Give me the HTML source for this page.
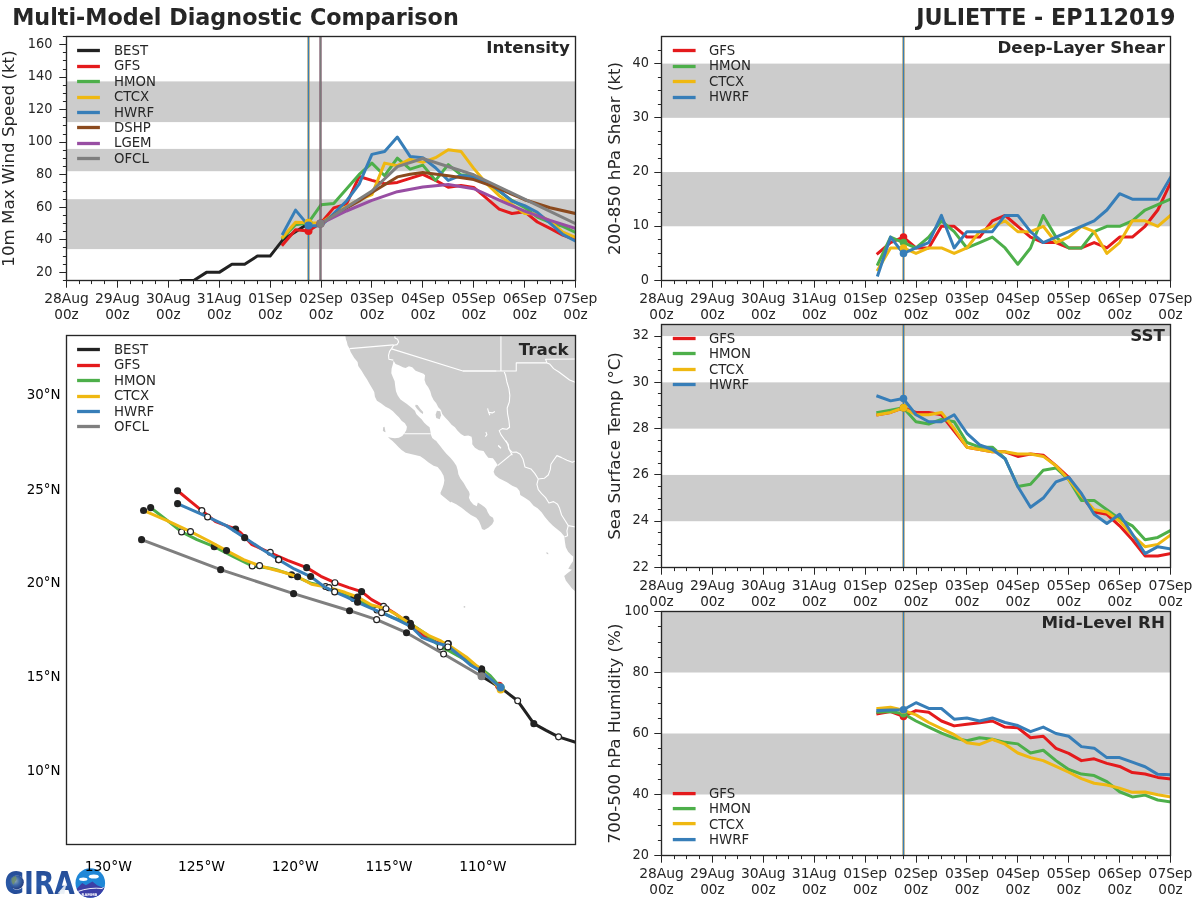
<!DOCTYPE html>
<html lang="en"><head><meta charset="utf-8"><title>Multi-Model Diagnostic Comparison - JULIETTE EP112019</title>
<style>html,body{margin:0;padding:0;background:#fff}svg{display:block}text{font-family:"DejaVu Sans","Liberation Sans",sans-serif;font-size:13.3px;fill:#262626}.t{font-size:13.89px}</style></head><body>
<svg width="1200" height="900" viewBox="0 0 1200 900">
<rect width="1200" height="900" fill="#fff"/>
<text x="12.2" y="25" style="font-size:22.28px;font-weight:bold">Multi-Model Diagnostic Comparison</text>
<text x="1175.6" y="25" style="font-size:22.28px;font-weight:bold" text-anchor="end">JULIETTE - EP112019</text>
<g id="intensity">
<clipPath id="cpI"><rect x="66.5" y="36.5" width="509" height="244"/></clipPath>
<rect x="66.5" y="199.2" width="509" height="49.9" fill="#cccccc"/>
<rect x="66.5" y="148.9" width="509" height="22.3" fill="#cccccc"/>
<rect x="66.5" y="81.4" width="509" height="40.7" fill="#cccccc"/>
<g clip-path="url(#cpI)">
<polyline points="181.02,280.5 193.75,280.5 206.47,272.37 219.2,272.37 231.92,264.23 244.65,264.23 257.38,256.1 270.1,256.1 282.82,239.83 295.55,231.7 308.27,223.57" fill="none" stroke="#222222" stroke-width="3" stroke-linejoin="round" stroke-linecap="square"/>
<polyline points="282.82,244.6 295.55,229.8 308.27,231 321,222.9 333.72,207.9 346.45,204.15 359.18,176.5 371.9,180.4 384.62,183.7 397.35,182.4 410.07,178.4 422.8,174.4 435.52,180.4 448.25,187.2 460.97,185.6 473.7,187.4 486.43,198.2 499.15,209.1 511.88,213.5 524.6,211.7 537.33,222 550.05,228.4 562.77,235.1 575.5,239.8" fill="none" stroke="#e41a1c" stroke-width="3" stroke-linejoin="round" stroke-linecap="square"/>
<polyline points="282.82,237.9 295.55,224.8 308.27,222.9 321,204.8 333.72,203.5 346.45,189.1 359.18,174.4 371.9,163.1 384.62,175.7 397.35,158.1 410.07,169.1 422.8,165.1 435.52,180.4 448.25,164.6 460.97,174.8 473.7,176.1 486.43,182.4 499.15,191.4 511.88,200.4 524.6,207.4 537.33,217.1 550.05,222.4 562.77,226.4 575.5,232.4" fill="none" stroke="#4daf4a" stroke-width="3" stroke-linejoin="round" stroke-linecap="square"/>
<polyline points="282.82,237.1 295.55,222.3 308.27,222.8 321,222.9 333.72,214.15 346.45,206.65 359.18,199.8 371.9,194.6 384.62,163.1 397.35,165.7 410.07,159.1 422.8,162.4 435.52,157.7 448.25,149.7 460.97,151.4 473.7,168.4 486.43,183.4 499.15,195.7 511.88,204.4 524.6,213.5 537.33,214 550.05,221.1 562.77,232.1 575.5,237.5" fill="none" stroke="#efb811" stroke-width="3" stroke-linejoin="round" stroke-linecap="square"/>
<polyline points="282.82,233.7 295.55,210.15 308.27,225.4 321,226 333.72,213.5 346.45,201 359.18,184.2 371.9,154.4 384.62,151.5 397.35,137.1 410.07,156.4 422.8,157.7 435.52,167.7 448.25,180.4 460.97,175.4 473.7,177.1 486.43,181.7 499.15,190.4 511.88,201.1 524.6,205.7 537.33,212.4 550.05,223.1 562.77,234.4 575.5,241.1" fill="none" stroke="#377eb8" stroke-width="3" stroke-linejoin="round" stroke-linecap="square"/>
<polyline points="321,223.6 333.72,215.4 346.45,207.9 359.18,200.9 371.9,192.4 384.62,184.8 397.35,176.9 410.07,174.2 422.8,172.4 448.25,175.7 473.7,179.6 499.15,188.7 524.6,199.7 550.05,207.7 575.5,213.5" fill="none" stroke="#8b4a1e" stroke-width="3" stroke-linejoin="round" stroke-linecap="square"/>
<polyline points="321,223.6 346.45,211 371.9,200.4 397.35,191.7 422.8,187.1 448.25,184.4 473.7,188.7 499.15,200.1 524.6,211.1 550.05,220.4 575.5,228.4" fill="none" stroke="#984ea3" stroke-width="3" stroke-linejoin="round" stroke-linecap="square"/>
<polyline points="321,223.57 346.45,207.3 371.9,191.03 397.35,166.63 422.8,158.5 473.7,174.77 524.6,199.17 575.5,223.57" fill="none" stroke="#7f7f7f" stroke-width="3" stroke-linejoin="round" stroke-linecap="square"/>
<rect x="307" y="36.5" width="3" height="244" fill="#99854b" fill-opacity="0.55" shape-rendering="crispEdges"/>
<rect x="308" y="36.5" width="1" height="244" fill="#377eb8" shape-rendering="crispEdges"/>
<rect x="319" y="36.5" width="3" height="244" fill="#704c5e" fill-opacity="0.6" shape-rendering="crispEdges"/>
<rect x="320" y="36.5" width="1" height="244" fill="#7a7a7a" shape-rendering="crispEdges"/>
<circle cx="308.5" cy="231" r="4" fill="#e41a1c"/>
<circle cx="308.5" cy="222.9" r="4" fill="#4daf4a"/>
<circle cx="308.5" cy="222.8" r="4" fill="#efb811"/>
<circle cx="308.5" cy="225.4" r="4" fill="#377eb8"/>
<circle cx="320.5" cy="223.6" r="4" fill="#8b4a1e"/>
<circle cx="320.5" cy="223.6" r="4" fill="#984ea3"/>
<circle cx="320.5" cy="223.7" r="4" fill="#7f7f7f"/>
</g>
<rect x="66.5" y="36.5" width="509" height="244" fill="none" stroke="#262626" stroke-width="1.35"/>
<path d="M66.5 280.5v7.2M79.5 280.5v3.6M91.5 280.5v3.6M104.5 280.5v3.6M117.5 280.5v7.2M130.5 280.5v3.6M142.5 280.5v3.6M155.5 280.5v3.6M168.5 280.5v7.2M181.5 280.5v3.6M193.5 280.5v3.6M206.5 280.5v3.6M219.5 280.5v7.2M231.5 280.5v3.6M244.5 280.5v3.6M257.5 280.5v3.6M270.5 280.5v7.2M282.5 280.5v3.6M295.5 280.5v3.6M308.5 280.5v3.6M321.5 280.5v7.2M333.5 280.5v3.6M346.5 280.5v3.6M359.5 280.5v3.6M371.5 280.5v7.2M384.5 280.5v3.6M397.5 280.5v3.6M410.5 280.5v3.6M422.5 280.5v7.2M435.5 280.5v3.6M448.5 280.5v3.6M460.5 280.5v3.6M473.5 280.5v7.2M486.5 280.5v3.6M499.5 280.5v3.6M511.5 280.5v3.6M524.5 280.5v7.2M537.5 280.5v3.6M550.5 280.5v3.6M562.5 280.5v3.6M575.5 280.5v7.2" stroke="#262626" stroke-width="1" fill="none"/>
<text class="t" x="66.5" y="302.8" text-anchor="middle">28Aug</text>
<text class="t" x="66.5" y="318.6" text-anchor="middle" style="font-size:13.6px">00z</text>
<text class="t" x="117.4" y="302.8" text-anchor="middle">29Aug</text>
<text class="t" x="117.4" y="318.6" text-anchor="middle" style="font-size:13.6px">00z</text>
<text class="t" x="168.3" y="302.8" text-anchor="middle">30Aug</text>
<text class="t" x="168.3" y="318.6" text-anchor="middle" style="font-size:13.6px">00z</text>
<text class="t" x="219.2" y="302.8" text-anchor="middle">31Aug</text>
<text class="t" x="219.2" y="318.6" text-anchor="middle" style="font-size:13.6px">00z</text>
<text class="t" x="270.1" y="302.8" text-anchor="middle">01Sep</text>
<text class="t" x="270.1" y="318.6" text-anchor="middle" style="font-size:13.6px">00z</text>
<text class="t" x="321" y="302.8" text-anchor="middle">02Sep</text>
<text class="t" x="321" y="318.6" text-anchor="middle" style="font-size:13.6px">00z</text>
<text class="t" x="371.9" y="302.8" text-anchor="middle">03Sep</text>
<text class="t" x="371.9" y="318.6" text-anchor="middle" style="font-size:13.6px">00z</text>
<text class="t" x="422.8" y="302.8" text-anchor="middle">04Sep</text>
<text class="t" x="422.8" y="318.6" text-anchor="middle" style="font-size:13.6px">00z</text>
<text class="t" x="473.7" y="302.8" text-anchor="middle">05Sep</text>
<text class="t" x="473.7" y="318.6" text-anchor="middle" style="font-size:13.6px">00z</text>
<text class="t" x="524.6" y="302.8" text-anchor="middle">06Sep</text>
<text class="t" x="524.6" y="318.6" text-anchor="middle" style="font-size:13.6px">00z</text>
<text class="t" x="575.5" y="302.8" text-anchor="middle">07Sep</text>
<text class="t" x="575.5" y="318.6" text-anchor="middle" style="font-size:13.6px">00z</text>
<path d="M66.5 272.5h-7.2M66.5 239.5h-7.2M66.5 207.5h-7.2M66.5 174.5h-7.2M66.5 142.5h-7.2M66.5 109.5h-7.2M66.5 77.5h-7.2M66.5 44.5h-7.2M66.5 280.5h-3.6M66.5 264.5h-3.6M66.5 256.5h-3.6M66.5 247.5h-3.6M66.5 231.5h-3.6M66.5 223.5h-3.6M66.5 215.5h-3.6M66.5 199.5h-3.6M66.5 191.5h-3.6M66.5 182.5h-3.6M66.5 166.5h-3.6M66.5 158.5h-3.6M66.5 150.5h-3.6M66.5 134.5h-3.6M66.5 125.5h-3.6M66.5 117.5h-3.6M66.5 101.5h-3.6M66.5 93.5h-3.6M66.5 85.5h-3.6M66.5 69.5h-3.6M66.5 60.5h-3.6M66.5 52.5h-3.6M66.5 36.5h-3.6" stroke="#262626" stroke-width="1" fill="none"/>
<text class="t" transform="translate(52.5 275.57) scale(0.93 1)" text-anchor="end">20</text>
<text class="t" transform="translate(52.5 243.03) scale(0.93 1)" text-anchor="end">40</text>
<text class="t" transform="translate(52.5 210.5) scale(0.93 1)" text-anchor="end">60</text>
<text class="t" transform="translate(52.5 177.97) scale(0.93 1)" text-anchor="end">80</text>
<text class="t" transform="translate(52.5 145.43) scale(0.93 1)" text-anchor="end">100</text>
<text class="t" transform="translate(52.5 112.9) scale(0.93 1)" text-anchor="end">120</text>
<text class="t" transform="translate(52.5 80.37) scale(0.93 1)" text-anchor="end">140</text>
<text class="t" transform="translate(52.5 47.83) scale(0.93 1)" text-anchor="end">160</text>
<text transform="translate(13.6 158.5) rotate(-90)" text-anchor="middle" style="font-size:16.67px">10m Max Wind Speed (kt)</text>
<text x="569.9" y="52.7" text-anchor="end" style="font-size:16.67px;font-weight:bold">Intensity</text>
<path d="M77.1 50.5h22.8" stroke="#222222" stroke-width="3.3"/>
<text x="114" y="54.7">BEST</text>
<path d="M77.1 66.5h22.8" stroke="#e41a1c" stroke-width="3.3"/>
<text x="114" y="70.15">GFS</text>
<path d="M77.1 81.5h22.8" stroke="#4daf4a" stroke-width="3.3"/>
<text x="114" y="85.6">HMON</text>
<path d="M77.1 97.5h22.8" stroke="#efb811" stroke-width="3.3"/>
<text x="114" y="101.05">CTCX</text>
<path d="M77.1 112.5h22.8" stroke="#377eb8" stroke-width="3.3"/>
<text x="114" y="116.5">HWRF</text>
<path d="M77.1 127.5h22.8" stroke="#8b4a1e" stroke-width="3.3"/>
<text x="114" y="131.95">DSHP</text>
<path d="M77.1 143.5h22.8" stroke="#984ea3" stroke-width="3.3"/>
<text x="114" y="147.4">LGEM</text>
<path d="M77.1 158.5h22.8" stroke="#7f7f7f" stroke-width="3.3"/>
<text x="114" y="162.85">OFCL</text>
</g>
<g id="shear">
<clipPath id="cpshear"><rect x="661.5" y="36.5" width="509" height="244"/></clipPath>
<rect x="661.5" y="172.06" width="509" height="54.22" fill="#cccccc"/>
<rect x="661.5" y="63.61" width="509" height="54.22" fill="#cccccc"/>
<g clip-path="url(#cpshear)">
<polyline points="877.83,253.39 890.55,242.54 903.27,237.12 916,247.97 928.72,247.97 941.45,226.28 954.17,226.28 966.9,237.12 979.62,237.12 992.35,220.86 1005.08,215.43 1017.8,226.28 1030.53,237.12 1043.25,242.54 1055.97,242.54 1068.7,247.97 1081.42,247.97 1094.15,242.54 1106.88,247.97 1119.6,237.12 1132.33,237.12 1145.05,226.28 1157.78,210.01 1170.5,182.9" fill="none" stroke="#e41a1c" stroke-width="3" stroke-linejoin="round" stroke-linecap="square"/>
<polyline points="877.83,264.23 890.55,237.12 903.27,242.54 916,247.97 928.72,237.12 941.45,220.86 954.17,231.7 966.9,247.97 979.62,242.54 992.35,237.12 1005.08,247.97 1017.8,264.23 1030.53,247.97 1043.25,215.43 1055.97,237.12 1068.7,247.97 1081.42,247.97 1094.15,231.7 1106.88,226.28 1119.6,226.28 1132.33,220.86 1145.05,210.01 1157.78,204.59 1170.5,199.17" fill="none" stroke="#4daf4a" stroke-width="3" stroke-linejoin="round" stroke-linecap="square"/>
<polyline points="877.83,269.66 890.55,247.97 903.27,247.97 916,253.39 928.72,247.97 941.45,247.97 954.17,253.39 966.9,247.97 979.62,231.7 992.35,226.28 1005.08,220.86 1017.8,231.7 1030.53,231.7 1043.25,226.28 1055.97,242.54 1068.7,237.12 1081.42,226.28 1094.15,231.7 1106.88,253.39 1119.6,242.54 1132.33,220.86 1145.05,220.86 1157.78,226.28 1170.5,215.43" fill="none" stroke="#efb811" stroke-width="3" stroke-linejoin="round" stroke-linecap="square"/>
<polyline points="877.83,275.08 890.55,237.12 903.27,253.39 916,247.97 928.72,242.54 941.45,215.43 954.17,247.97 966.9,231.7 979.62,231.7 992.35,231.7 1005.08,215.43 1017.8,215.43 1030.53,231.7 1043.25,242.54 1055.97,237.12 1068.7,231.7 1081.42,226.28 1094.15,220.86 1106.88,210.01 1119.6,193.74 1132.33,199.17 1145.05,199.17 1157.78,199.17 1170.5,177.48" fill="none" stroke="#377eb8" stroke-width="3" stroke-linejoin="round" stroke-linecap="square"/>
<rect x="902" y="36.5" width="3" height="244" fill="#99854b" fill-opacity="0.55" shape-rendering="crispEdges"/>
<rect x="903" y="36.5" width="1" height="244" fill="#377eb8" shape-rendering="crispEdges"/>
<circle cx="903.5" cy="237.12" r="3.8" fill="#e41a1c"/>
<circle cx="903.5" cy="242.54" r="3.8" fill="#4daf4a"/>
<circle cx="903.5" cy="247.97" r="3.8" fill="#efb811"/>
<circle cx="903.5" cy="253.39" r="3.8" fill="#377eb8"/>
</g>
<rect x="661.5" y="36.5" width="509" height="244" fill="none" stroke="#262626" stroke-width="1.35"/>
<path d="M661.5 280.5v7.2M674.5 280.5v3.6M686.5 280.5v3.6M699.5 280.5v3.6M712.5 280.5v7.2M725.5 280.5v3.6M737.5 280.5v3.6M750.5 280.5v3.6M763.5 280.5v7.2M776.5 280.5v3.6M788.5 280.5v3.6M801.5 280.5v3.6M814.5 280.5v7.2M826.5 280.5v3.6M839.5 280.5v3.6M852.5 280.5v3.6M865.5 280.5v7.2M877.5 280.5v3.6M890.5 280.5v3.6M903.5 280.5v3.6M916.5 280.5v7.2M928.5 280.5v3.6M941.5 280.5v3.6M954.5 280.5v3.6M966.5 280.5v7.2M979.5 280.5v3.6M992.5 280.5v3.6M1005.5 280.5v3.6M1017.5 280.5v7.2M1030.5 280.5v3.6M1043.5 280.5v3.6M1055.5 280.5v3.6M1068.5 280.5v7.2M1081.5 280.5v3.6M1094.5 280.5v3.6M1106.5 280.5v3.6M1119.5 280.5v7.2M1132.5 280.5v3.6M1145.5 280.5v3.6M1157.5 280.5v3.6M1170.5 280.5v7.2" stroke="#262626" stroke-width="1" fill="none"/>
<text class="t" x="661.5" y="302.8" text-anchor="middle">28Aug</text>
<text class="t" x="661.5" y="318.6" text-anchor="middle" style="font-size:13.6px">00z</text>
<text class="t" x="712.4" y="302.8" text-anchor="middle">29Aug</text>
<text class="t" x="712.4" y="318.6" text-anchor="middle" style="font-size:13.6px">00z</text>
<text class="t" x="763.3" y="302.8" text-anchor="middle">30Aug</text>
<text class="t" x="763.3" y="318.6" text-anchor="middle" style="font-size:13.6px">00z</text>
<text class="t" x="814.2" y="302.8" text-anchor="middle">31Aug</text>
<text class="t" x="814.2" y="318.6" text-anchor="middle" style="font-size:13.6px">00z</text>
<text class="t" x="865.1" y="302.8" text-anchor="middle">01Sep</text>
<text class="t" x="865.1" y="318.6" text-anchor="middle" style="font-size:13.6px">00z</text>
<text class="t" x="916" y="302.8" text-anchor="middle">02Sep</text>
<text class="t" x="916" y="318.6" text-anchor="middle" style="font-size:13.6px">00z</text>
<text class="t" x="966.9" y="302.8" text-anchor="middle">03Sep</text>
<text class="t" x="966.9" y="318.6" text-anchor="middle" style="font-size:13.6px">00z</text>
<text class="t" x="1017.8" y="302.8" text-anchor="middle">04Sep</text>
<text class="t" x="1017.8" y="318.6" text-anchor="middle" style="font-size:13.6px">00z</text>
<text class="t" x="1068.7" y="302.8" text-anchor="middle">05Sep</text>
<text class="t" x="1068.7" y="318.6" text-anchor="middle" style="font-size:13.6px">00z</text>
<text class="t" x="1119.6" y="302.8" text-anchor="middle">06Sep</text>
<text class="t" x="1119.6" y="318.6" text-anchor="middle" style="font-size:13.6px">00z</text>
<text class="t" x="1170.5" y="302.8" text-anchor="middle">07Sep</text>
<text class="t" x="1170.5" y="318.6" text-anchor="middle" style="font-size:13.6px">00z</text>
<path d="M661.5 280.5h-7.2M661.5 226.5h-7.2M661.5 172.5h-7.2M661.5 117.5h-7.2M661.5 63.5h-7.2M661.5 266.5h-3.6M661.5 253.5h-3.6M661.5 239.5h-3.6M661.5 212.5h-3.6M661.5 199.5h-3.6M661.5 185.5h-3.6M661.5 158.5h-3.6M661.5 144.5h-3.6M661.5 131.5h-3.6M661.5 104.5h-3.6M661.5 90.5h-3.6M661.5 77.5h-3.6M661.5 50.5h-3.6" stroke="#262626" stroke-width="1" fill="none"/>
<text class="t" transform="translate(648.9 283.7) scale(0.93 1)" text-anchor="end">0</text>
<text class="t" transform="translate(648.9 229.48) scale(0.93 1)" text-anchor="end">10</text>
<text class="t" transform="translate(648.9 175.26) scale(0.93 1)" text-anchor="end">20</text>
<text class="t" transform="translate(648.9 121.03) scale(0.93 1)" text-anchor="end">30</text>
<text class="t" transform="translate(648.9 66.81) scale(0.93 1)" text-anchor="end">40</text>
<text transform="translate(620.1 158.5) rotate(-90)" text-anchor="middle" style="font-size:16.67px">200-850 hPa Shear (kt)</text>
<text x="1164.9" y="52.7" text-anchor="end" style="font-size:16.67px;font-weight:bold">Deep-Layer Shear</text>
<path d="M672.8 50.5h22.8" stroke="#e41a1c" stroke-width="3.3"/>
<text x="709" y="54.7">GFS</text>
<path d="M672.8 66.5h22.8" stroke="#4daf4a" stroke-width="3.3"/>
<text x="709" y="70.15">HMON</text>
<path d="M672.8 81.5h22.8" stroke="#efb811" stroke-width="3.3"/>
<text x="709" y="85.6">CTCX</text>
<path d="M672.8 97.5h22.8" stroke="#377eb8" stroke-width="3.3"/>
<text x="709" y="101.05">HWRF</text>
</g>
<g id="sst">
<clipPath id="cpsst"><rect x="661.5" y="324.5" width="509" height="243"/></clipPath>
<rect x="661.5" y="474.93" width="509" height="46.29" fill="#cccccc"/>
<rect x="661.5" y="382.36" width="509" height="46.29" fill="#cccccc"/>
<rect x="661.5" y="324.5" width="509" height="11.57" fill="#cccccc"/>
<g clip-path="url(#cpsst)">
<polyline points="877.83,414.76 890.55,412.44 903.27,407.81 916,412.44 928.72,412.44 941.45,414.76 954.17,430.96 966.9,447.16 979.62,449.47 992.35,451.79 1005.08,451.79 1017.8,456.41 1030.53,454.1 1043.25,455.26 1055.97,465.67 1068.7,477.24 1081.42,495.76 1094.15,511.96 1106.88,514.27 1119.6,525.84 1132.33,539.73 1145.05,555.93 1157.78,555.93 1170.5,553.61" fill="none" stroke="#e41a1c" stroke-width="3" stroke-linejoin="round" stroke-linecap="square"/>
<polyline points="877.83,412.44 890.55,410.13 903.27,407.81 916,421.7 928.72,424.01 941.45,419.39 954.17,421.7 966.9,442.53 979.62,447.16 992.35,447.16 1005.08,458.73 1017.8,486.5 1030.53,484.19 1043.25,470.3 1055.97,467.99 1068.7,479.56 1081.42,500.39 1094.15,500.39 1106.88,509.64 1119.6,518.9 1132.33,525.84 1145.05,539.73 1157.78,537.41 1170.5,530.47" fill="none" stroke="#4daf4a" stroke-width="3" stroke-linejoin="round" stroke-linecap="square"/>
<polyline points="877.83,414.76 890.55,412.44 903.27,407.81 916,414.76 928.72,414.76 941.45,412.44 954.17,428.64 966.9,447.16 979.62,449.47 992.35,451.79 1005.08,451.79 1017.8,454.1 1030.53,454.1 1043.25,456.41 1055.97,465.67 1068.7,479.56 1081.42,495.76 1094.15,509.64 1106.88,511.96 1119.6,521.21 1132.33,535.1 1145.05,546.67 1157.78,544.36 1170.5,535.1" fill="none" stroke="#efb811" stroke-width="3" stroke-linejoin="round" stroke-linecap="square"/>
<polyline points="877.83,396.24 890.55,400.87 903.27,398.56 916,414.76 928.72,421.7 941.45,421.7 954.17,414.76 966.9,433.27 979.62,444.84 992.35,449.47 1005.08,458.73 1017.8,486.5 1030.53,507.33 1043.25,498.07 1055.97,481.87 1068.7,477.24 1081.42,493.44 1094.15,514.27 1106.88,523.53 1119.6,514.27 1132.33,533.94 1145.05,553.61 1157.78,546.67 1170.5,548.99" fill="none" stroke="#377eb8" stroke-width="3" stroke-linejoin="round" stroke-linecap="square"/>
<rect x="902" y="324.5" width="3" height="243" fill="#99854b" fill-opacity="0.55" shape-rendering="crispEdges"/>
<rect x="903" y="324.5" width="1" height="243" fill="#377eb8" shape-rendering="crispEdges"/>
<circle cx="903.5" cy="407.81" r="3.8" fill="#e41a1c"/>
<circle cx="903.5" cy="407.81" r="3.8" fill="#4daf4a"/>
<circle cx="903.5" cy="407.81" r="3.8" fill="#efb811"/>
<circle cx="903.5" cy="398.56" r="3.8" fill="#377eb8"/>
</g>
<rect x="661.5" y="324.5" width="509" height="243" fill="none" stroke="#262626" stroke-width="1.35"/>
<path d="M661.5 567.5v7.2M674.5 567.5v3.6M686.5 567.5v3.6M699.5 567.5v3.6M712.5 567.5v7.2M725.5 567.5v3.6M737.5 567.5v3.6M750.5 567.5v3.6M763.5 567.5v7.2M776.5 567.5v3.6M788.5 567.5v3.6M801.5 567.5v3.6M814.5 567.5v7.2M826.5 567.5v3.6M839.5 567.5v3.6M852.5 567.5v3.6M865.5 567.5v7.2M877.5 567.5v3.6M890.5 567.5v3.6M903.5 567.5v3.6M916.5 567.5v7.2M928.5 567.5v3.6M941.5 567.5v3.6M954.5 567.5v3.6M966.5 567.5v7.2M979.5 567.5v3.6M992.5 567.5v3.6M1005.5 567.5v3.6M1017.5 567.5v7.2M1030.5 567.5v3.6M1043.5 567.5v3.6M1055.5 567.5v3.6M1068.5 567.5v7.2M1081.5 567.5v3.6M1094.5 567.5v3.6M1106.5 567.5v3.6M1119.5 567.5v7.2M1132.5 567.5v3.6M1145.5 567.5v3.6M1157.5 567.5v3.6M1170.5 567.5v7.2" stroke="#262626" stroke-width="1" fill="none"/>
<text class="t" x="661.5" y="589.8" text-anchor="middle">28Aug</text>
<text class="t" x="661.5" y="605.6" text-anchor="middle" style="font-size:13.6px">00z</text>
<text class="t" x="712.4" y="589.8" text-anchor="middle">29Aug</text>
<text class="t" x="712.4" y="605.6" text-anchor="middle" style="font-size:13.6px">00z</text>
<text class="t" x="763.3" y="589.8" text-anchor="middle">30Aug</text>
<text class="t" x="763.3" y="605.6" text-anchor="middle" style="font-size:13.6px">00z</text>
<text class="t" x="814.2" y="589.8" text-anchor="middle">31Aug</text>
<text class="t" x="814.2" y="605.6" text-anchor="middle" style="font-size:13.6px">00z</text>
<text class="t" x="865.1" y="589.8" text-anchor="middle">01Sep</text>
<text class="t" x="865.1" y="605.6" text-anchor="middle" style="font-size:13.6px">00z</text>
<text class="t" x="916" y="589.8" text-anchor="middle">02Sep</text>
<text class="t" x="916" y="605.6" text-anchor="middle" style="font-size:13.6px">00z</text>
<text class="t" x="966.9" y="589.8" text-anchor="middle">03Sep</text>
<text class="t" x="966.9" y="605.6" text-anchor="middle" style="font-size:13.6px">00z</text>
<text class="t" x="1017.8" y="589.8" text-anchor="middle">04Sep</text>
<text class="t" x="1017.8" y="605.6" text-anchor="middle" style="font-size:13.6px">00z</text>
<text class="t" x="1068.7" y="589.8" text-anchor="middle">05Sep</text>
<text class="t" x="1068.7" y="605.6" text-anchor="middle" style="font-size:13.6px">00z</text>
<text class="t" x="1119.6" y="589.8" text-anchor="middle">06Sep</text>
<text class="t" x="1119.6" y="605.6" text-anchor="middle" style="font-size:13.6px">00z</text>
<text class="t" x="1170.5" y="589.8" text-anchor="middle">07Sep</text>
<text class="t" x="1170.5" y="605.6" text-anchor="middle" style="font-size:13.6px">00z</text>
<path d="M661.5 567.5h-7.2M661.5 521.5h-7.2M661.5 474.5h-7.2M661.5 428.5h-7.2M661.5 382.5h-7.2M661.5 336.5h-7.2M661.5 555.5h-3.6M661.5 544.5h-3.6M661.5 532.5h-3.6M661.5 509.5h-3.6M661.5 498.5h-3.6M661.5 486.5h-3.6M661.5 463.5h-3.6M661.5 451.5h-3.6M661.5 440.5h-3.6M661.5 417.5h-3.6M661.5 405.5h-3.6M661.5 393.5h-3.6M661.5 370.5h-3.6M661.5 359.5h-3.6M661.5 347.5h-3.6" stroke="#262626" stroke-width="1" fill="none"/>
<text class="t" transform="translate(648.9 570.7) scale(0.93 1)" text-anchor="end">22</text>
<text class="t" transform="translate(648.9 524.41) scale(0.93 1)" text-anchor="end">24</text>
<text class="t" transform="translate(648.9 478.13) scale(0.93 1)" text-anchor="end">26</text>
<text class="t" transform="translate(648.9 431.84) scale(0.93 1)" text-anchor="end">28</text>
<text class="t" transform="translate(648.9 385.56) scale(0.93 1)" text-anchor="end">30</text>
<text class="t" transform="translate(648.9 339.27) scale(0.93 1)" text-anchor="end">32</text>
<text transform="translate(620.1 446) rotate(-90)" text-anchor="middle" style="font-size:16.67px">Sea Surface Temp (°C)</text>
<text x="1164.9" y="340.7" text-anchor="end" style="font-size:16.67px;font-weight:bold">SST</text>
<path d="M672.8 338.5h22.8" stroke="#e41a1c" stroke-width="3.3"/>
<text x="709" y="342.7">GFS</text>
<path d="M672.8 353.5h22.8" stroke="#4daf4a" stroke-width="3.3"/>
<text x="709" y="358.15">HMON</text>
<path d="M672.8 369.5h22.8" stroke="#efb811" stroke-width="3.3"/>
<text x="709" y="373.6">CTCX</text>
<path d="M672.8 384.5h22.8" stroke="#377eb8" stroke-width="3.3"/>
<text x="709" y="389.05">HWRF</text>
</g>
<!-- rh -->
<g id="rh">
<clipPath id="cprh"><rect x="661.5" y="611.5" width="509" height="244"/></clipPath>
<rect x="661.5" y="733.5" width="509" height="61" fill="#cccccc"/>
<rect x="661.5" y="611.5" width="509" height="61" fill="#cccccc"/>
<g clip-path="url(#cprh)">
<polyline points="877.83,713.67 890.55,711.54 903.27,716.42 916,710.62 928.72,712.15 941.45,721 954.17,725.88 966.9,724.35 979.62,722.83 992.35,721 1005.08,727.1 1017.8,727.71 1030.53,737.77 1043.25,736.25 1055.97,748.45 1068.7,753.33 1081.42,760.64 1094.15,758.82 1106.88,763.39 1119.6,766.44 1132.33,772.54 1145.05,774.07 1157.78,777.42 1170.5,778.94" fill="none" stroke="#e41a1c" stroke-width="3" stroke-linejoin="round" stroke-linecap="square"/>
<polyline points="877.83,712.15 890.55,711.54 903.27,713.67 916,721 928.72,727.1 941.45,733.2 954.17,738.08 966.9,740.82 979.62,737.77 992.35,739.29 1005.08,742.35 1017.8,743.87 1030.53,753.02 1043.25,750.27 1055.97,760.64 1068.7,769.49 1081.42,774.07 1094.15,775.59 1106.88,781.69 1119.6,791.75 1132.33,796.94 1145.05,795.11 1157.78,799.99 1170.5,801.82" fill="none" stroke="#4daf4a" stroke-width="3" stroke-linejoin="round" stroke-linecap="square"/>
<polyline points="877.83,708.49 890.55,707.27 903.27,710.32 916,714.89 928.72,722.52 941.45,728.62 954.17,734.72 966.9,742.65 979.62,744.48 992.35,739.29 1005.08,744.17 1017.8,753.02 1030.53,757.6 1043.25,760.64 1055.97,766.44 1068.7,772.24 1081.42,778.64 1094.15,783.22 1106.88,785.04 1119.6,788.1 1132.33,792.37 1145.05,792.06 1157.78,794.81 1170.5,796.94" fill="none" stroke="#efb811" stroke-width="3" stroke-linejoin="round" stroke-linecap="square"/>
<polyline points="877.83,710.62 890.55,710.01 903.27,709.71 916,702.7 928.72,708.49 941.45,708.49 954.17,719.16 966.9,717.95 979.62,721 992.35,717.95 1005.08,722.52 1017.8,725.57 1030.53,731.67 1043.25,727.1 1055.97,733.5 1068.7,736.25 1081.42,746.62 1094.15,748.14 1106.88,757.6 1119.6,757.6 1132.33,762.17 1145.05,766.75 1157.78,774.37 1170.5,774.67" fill="none" stroke="#377eb8" stroke-width="3" stroke-linejoin="round" stroke-linecap="square"/>
<rect x="902" y="611.5" width="3" height="244" fill="#99854b" fill-opacity="0.55" shape-rendering="crispEdges"/>
<rect x="903" y="611.5" width="1" height="244" fill="#377eb8" shape-rendering="crispEdges"/>
<circle cx="903.5" cy="716.42" r="3.8" fill="#e41a1c"/>
<circle cx="903.5" cy="713.67" r="3.8" fill="#4daf4a"/>
<circle cx="903.5" cy="710.32" r="3.8" fill="#efb811"/>
<circle cx="903.5" cy="709.71" r="3.8" fill="#377eb8"/>
</g>
<rect x="661.5" y="611.5" width="509" height="244" fill="none" stroke="#262626" stroke-width="1.35"/>
<path d="M661.5 855.5v7.2M674.5 855.5v3.6M686.5 855.5v3.6M699.5 855.5v3.6M712.5 855.5v7.2M725.5 855.5v3.6M737.5 855.5v3.6M750.5 855.5v3.6M763.5 855.5v7.2M776.5 855.5v3.6M788.5 855.5v3.6M801.5 855.5v3.6M814.5 855.5v7.2M826.5 855.5v3.6M839.5 855.5v3.6M852.5 855.5v3.6M865.5 855.5v7.2M877.5 855.5v3.6M890.5 855.5v3.6M903.5 855.5v3.6M916.5 855.5v7.2M928.5 855.5v3.6M941.5 855.5v3.6M954.5 855.5v3.6M966.5 855.5v7.2M979.5 855.5v3.6M992.5 855.5v3.6M1005.5 855.5v3.6M1017.5 855.5v7.2M1030.5 855.5v3.6M1043.5 855.5v3.6M1055.5 855.5v3.6M1068.5 855.5v7.2M1081.5 855.5v3.6M1094.5 855.5v3.6M1106.5 855.5v3.6M1119.5 855.5v7.2M1132.5 855.5v3.6M1145.5 855.5v3.6M1157.5 855.5v3.6M1170.5 855.5v7.2" stroke="#262626" stroke-width="1" fill="none"/>
<text class="t" x="661.5" y="877.8" text-anchor="middle">28Aug</text>
<text class="t" x="661.5" y="893.6" text-anchor="middle" style="font-size:13.6px">00z</text>
<text class="t" x="712.4" y="877.8" text-anchor="middle">29Aug</text>
<text class="t" x="712.4" y="893.6" text-anchor="middle" style="font-size:13.6px">00z</text>
<text class="t" x="763.3" y="877.8" text-anchor="middle">30Aug</text>
<text class="t" x="763.3" y="893.6" text-anchor="middle" style="font-size:13.6px">00z</text>
<text class="t" x="814.2" y="877.8" text-anchor="middle">31Aug</text>
<text class="t" x="814.2" y="893.6" text-anchor="middle" style="font-size:13.6px">00z</text>
<text class="t" x="865.1" y="877.8" text-anchor="middle">01Sep</text>
<text class="t" x="865.1" y="893.6" text-anchor="middle" style="font-size:13.6px">00z</text>
<text class="t" x="916" y="877.8" text-anchor="middle">02Sep</text>
<text class="t" x="916" y="893.6" text-anchor="middle" style="font-size:13.6px">00z</text>
<text class="t" x="966.9" y="877.8" text-anchor="middle">03Sep</text>
<text class="t" x="966.9" y="893.6" text-anchor="middle" style="font-size:13.6px">00z</text>
<text class="t" x="1017.8" y="877.8" text-anchor="middle">04Sep</text>
<text class="t" x="1017.8" y="893.6" text-anchor="middle" style="font-size:13.6px">00z</text>
<text class="t" x="1068.7" y="877.8" text-anchor="middle">05Sep</text>
<text class="t" x="1068.7" y="893.6" text-anchor="middle" style="font-size:13.6px">00z</text>
<text class="t" x="1119.6" y="877.8" text-anchor="middle">06Sep</text>
<text class="t" x="1119.6" y="893.6" text-anchor="middle" style="font-size:13.6px">00z</text>
<text class="t" x="1170.5" y="877.8" text-anchor="middle">07Sep</text>
<text class="t" x="1170.5" y="893.6" text-anchor="middle" style="font-size:13.6px">00z</text>
<path d="M661.5 855.5h-7.2M661.5 794.5h-7.2M661.5 733.5h-7.2M661.5 672.5h-7.2M661.5 611.5h-7.2M661.5 840.5h-3.6M661.5 825.5h-3.6M661.5 809.5h-3.6M661.5 779.5h-3.6M661.5 764.5h-3.6M661.5 748.5h-3.6M661.5 718.5h-3.6M661.5 703.5h-3.6M661.5 687.5h-3.6M661.5 657.5h-3.6M661.5 642.5h-3.6M661.5 626.5h-3.6" stroke="#262626" stroke-width="1" fill="none"/>
<text class="t" transform="translate(648.9 858.7) scale(0.93 1)" text-anchor="end">20</text>
<text class="t" transform="translate(648.9 797.7) scale(0.93 1)" text-anchor="end">40</text>
<text class="t" transform="translate(648.9 736.7) scale(0.93 1)" text-anchor="end">60</text>
<text class="t" transform="translate(648.9 675.7) scale(0.93 1)" text-anchor="end">80</text>
<text class="t" transform="translate(648.9 614.7) scale(0.93 1)" text-anchor="end">100</text>
<text transform="translate(620.1 733.5) rotate(-90)" text-anchor="middle" style="font-size:16.67px">700-500 hPa Humidity (%)</text>
<text x="1164.9" y="627.7" text-anchor="end" style="font-size:16.67px;font-weight:bold">Mid-Level RH</text>
<path d="M672.8 793.6h22.8" stroke="#e41a1c" stroke-width="3.3"/>
<text x="709" y="797.8">GFS</text>
<path d="M672.8 808.6h22.8" stroke="#4daf4a" stroke-width="3.3"/>
<text x="709" y="813.25">HMON</text>
<path d="M672.8 823.6h22.8" stroke="#efb811" stroke-width="3.3"/>
<text x="709" y="828.7">CTCX</text>
<path d="M672.8 839.6h22.8" stroke="#377eb8" stroke-width="3.3"/>
<text x="709" y="844.15">HWRF</text>
</g>
<g id="logo">
<defs><linearGradient id="lg" x1="0" y1="0" x2="0" y2="1"><stop offset="0" stop-color="#24478f"/><stop offset="0.55" stop-color="#2a5aa8"/><stop offset="1" stop-color="#1d3c86"/></linearGradient><radialGradient id="gl" cx="0.4" cy="0.4" r="0.7"><stop offset="0" stop-color="#8fa9b5"/><stop offset="0.45" stop-color="#3d68a8"/><stop offset="1" stop-color="#1b2f72"/></radialGradient><clipPath id="cpL"><circle cx="90.3" cy="883" r="14.8"/></clipPath></defs>
<text x="4.6" y="894.3" style="font-size:32.6px;font-weight:bold;fill:url(#lg)" textLength="70.2" lengthAdjust="spacingAndGlyphs">CIRA</text>
<circle cx="16.7" cy="882.3" r="7.1" fill="url(#gl)"/>
<path d="M11.5 878.5q2-2.5 4.5-2.6q1 2 .2 4.200q-1.500 2.500-3 5q-2-2.500-1.700-6.600z" fill="#6f8f6a" fill-opacity="0.85"/>
<path d="M57.5 893.5L66.600 882.800L64.300 894z" fill="#e8eef5" fill-opacity="0.9"/>
<circle cx="90.3" cy="883" r="14.8" fill="#1f87d7"/>
<g clip-path="url(#cpL)"><path d="M74 892.500L76.500 889L82.200 883L85.900 885.300L92.400 881.600L97.100 885.300L102.700 887.700L106 887L106 900L74 900Z" fill="#3c3fa6"/><ellipse cx="83.300" cy="879.300" rx="4.200" ry="1.700" fill="#fff"/><ellipse cx="93.800" cy="876.600" rx="5" ry="2" fill="#fff"/><path d="M77.500 891.600Q90 887 102.500 888.600" stroke="#fff" stroke-width="0.900" fill="none"/><path d="M100.500 889.200l2.800-2.200l.5 .8z" fill="#fff"/></g>
<text x="89.500" y="895.700" style="font-size:3.700px;font-weight:bold;fill:#fff" text-anchor="middle">RAMMB</text>
</g>
<g id="track">
<clipPath id="cpM"><rect x="66.5" y="335.5" width="509" height="509"/></clipPath>
<g clip-path="url(#cpM)"><g transform="translate(0.25 0.3)">
<polygon points="345.07,335 345.6,339 346.67,341.67 347.33,345 349.33,348.33 350.4,351.67 351.73,353.93 354,357.67 357.33,361.67 358,365.67 361.33,370.33 364,375 366.67,379 369.33,383.67 371.73,387.67 374,391.67 374.67,396.33 376.67,400.33 380.67,403 385.33,406.33 389.33,408.33 392.67,411 396,414.33 398.67,417 401.33,420.33 404.67,423 406.67,426.33 406.13,429.67 404.27,433 402,435.67 398.67,437.4 394.67,437.93 390.67,437.4 387.73,436.6 390,439 392,440.33 395.33,443.67 398.67,447.27 401.33,449.67 405.33,452.33 420,456 424,458.67 428,462 433.33,465.33 437.33,466.67 440.67,470.67 443.33,475.33 444.13,480 443.47,484 442.13,488 440,493.07 443.33,496 446.67,498.4 451.33,501.6 456,504 461.33,507.33 465.33,510.67 470.67,514.67 476,517.33 478.67,520.67 480.67,525.33 481.73,528.67 484,529.73 488,527.33 492,524 493.6,520.67 492.8,517.33 489.6,515.47 487.47,512 486.13,508.67 484.27,506.67 480.8,504.13 477.6,502.13 476.53,505.87 473.07,504.27 470.13,500.8 468.67,497.33 469.47,494 468.8,491.33 466.13,487.33 463.47,482.67 460,478 458.13,474 457.47,470 456.13,465.33 453.47,461.33 450.13,457.33 446.13,453.33 442.8,449.33 440.13,446 437.47,442.67 435.47,440 435.33,440.33 432,437.67 430.67,434.33 430.13,431 429.33,427 426.67,425 424,422.33 421.33,419 418.67,416.33 416,413.67 414.67,410.33 410.67,407 406.67,403.67 402.67,401 400,399 397.33,395 395.73,391 394.93,385.67 394.4,381 392.67,377 391.07,373 391.33,368.33 392.67,363.67 393.33,360.33 395.33,363.67 398.67,365 402.67,367 405.33,367.67 408.67,365.93 412,367 415.33,370.33 419.33,372.07 423.33,373.4 424.8,375 424.27,379.67 425.6,383.67 428,387 430,391 431.33,395.67 433.33,399.67 436,403 438,407 440.67,409.67 442,413.67 444.67,417 448,420.33 451.33,424.33 454.67,427 457.33,430.33 460.67,433.67 464,435.67 468,435.27 471.33,436.33 472,440.33 472,444 474.67,447.33 478.67,450 483.33,450.67 485.33,454 488,457.33 492.67,458 495.33,461.33 497.33,464.67 494.67,468 493.33,471.33 494.67,474.67 498.67,478 502.67,480 506.67,482 512,485.33 516.67,487.33 519.33,490.67 520,494.67 525.33,498 529.33,500.67 533.33,505.33 537.33,508 541.33,512 544.67,516.67 548.67,521.33 552.67,525.33 556.67,528.67 560.67,532 564,536 564.67,541.33 564.76,542.21 565.54,546.87 567.87,551.54 570.98,554.65 573,556.21 572.69,560.87 570.2,564.76 568.02,568.34 571.76,569.42 567.09,573 563.98,575.65 565.54,580.31 568.65,584.2 571.76,588.09 575.18,591.2 575.7,591.5 575.7,335.5 345,335.5" fill="#cccccc"/>
<polygon points="415.33,404.33 417.33,404.6 420,408.33 422.93,411.67 422.67,413.67 420,411.93 416.67,408.33 414.93,405.93" fill="#cccccc"/>
<polygon points="436.67,410.33 440,411 440.8,415 439.47,419 436,417.67 435.33,414.33" fill="#cccccc"/>
<polygon points="382.93,427 384.27,426.47 385.33,432.07 383.73,431.53 382.67,429.93" fill="#cccccc"/>
<polygon points="545.94,551.85 547.81,552.47 548.12,554.03 546.56,553.72" fill="#cccccc"/>
<polygon points="440.27,494 441.33,493.33 450.93,501.07 450.4,502.13" fill="#cccccc"/>
<circle cx="464.2" cy="606.500" r="0.900" fill="#cccccc"/>
<polyline points="349.33,348.33 393.33,344.6" fill="none" stroke="#fff" stroke-width="1.1" stroke-linejoin="round"/>
<polyline points="394.67,335 394.67,337.67 397.33,339 398.4,341.67 396.67,344.33 393.33,344.87 391.33,348.33 389.33,351 388.27,355 388.67,359 393.07,359.8" fill="none" stroke="#fff" stroke-width="1.1" stroke-linejoin="round"/>
<polyline points="391.33,348.6 462.67,370.73 496,370.73" fill="none" stroke="#fff" stroke-width="1.1" stroke-linejoin="round"/>
<polyline points="462.67,370.73 516,370.73 516,362.6 546.67,362.6 549.33,363.67 553.33,368.33 558.67,371.67 564,375.67 569.33,379.67 575.6,382.2" fill="none" stroke="#fff" stroke-width="1.1" stroke-linejoin="round"/>
<polyline points="500.67,335 500.67,370.73" fill="none" stroke="#fff" stroke-width="1.1" stroke-linejoin="round"/>
<polyline points="546.67,362.6 545.33,359 575.6,358.73" fill="none" stroke="#fff" stroke-width="1.1" stroke-linejoin="round"/>
<polyline points="404,433.4 430.4,433.4" fill="none" stroke="#fff" stroke-width="1.1" stroke-linejoin="round"/>
<polyline points="504,371.67 505.33,375 506.67,381.67 508.67,388.33 509.6,395 509.07,401.67 506.93,407.67 507.33,413.67 508.67,420.33 509.33,427 506.67,429 502,428.33 498.93,430.33 500.67,434.33 504,439 507.33,443.67 508.67,448.33 510.67,452.33 512,455" fill="none" stroke="#fff" stroke-width="1.1" stroke-linejoin="round"/>
<polyline points="505.33,440 508,444 508.67,448.67 512,452 516,451.73 520,454 522.67,458.67 524.67,466.67 530.67,468.67 534.67,473.33 538,478.67 536.67,484 538,489.33 541.33,493.33 545.33,497.33 548.67,502.67 553.33,501.33 557.33,504 559.33,508 561.33,514.67 564.67,520 568,525.33 575.33,526.67" fill="none" stroke="#fff" stroke-width="1.1" stroke-linejoin="round"/>
<polyline points="497.33,465.33 512,453.33" fill="none" stroke="#fff" stroke-width="1.1" stroke-linejoin="round"/>
<polyline points="538,478.67 544,478 548,474.67 550,469.33 550.67,464 553.33,460 556.67,455.33 561.33,457.33 566.67,460 572,462 575.33,460.67" fill="none" stroke="#fff" stroke-width="1.1" stroke-linejoin="round"/>
<polyline points="568,525.33 566.67,530.67 567.33,535.33 564.27,536.67" fill="none" stroke="#fff" stroke-width="1.1" stroke-linejoin="round"/>
<polyline points="487.33,408.07 488.27,411.67 489.6,415" fill="none" stroke="#fff" stroke-width="1.1" stroke-linejoin="round"/>
<polyline points="488.67,412.07 492,412.6 494.67,411.27" fill="none" stroke="#fff" stroke-width="1.1" stroke-linejoin="round"/>
<polyline points="485.6,431.67 486.67,434.33 485.07,436.33" fill="none" stroke="#fff" stroke-width="1.1" stroke-linejoin="round"/>
<polyline points="498,445 500.67,447.67" fill="none" stroke="#fff" stroke-width="1.1" stroke-linejoin="round"/>
<polyline points="498,445.33 500.67,448" fill="none" stroke="#fff" stroke-width="1.1" stroke-linejoin="round"/>
<polyline points="575.38,741.93 558.26,736.55 545.79,730.07 533.57,723.35 525.62,712.1 517.43,700.49 500.32,687.29 481.33,676" fill="none" stroke="#222222" stroke-width="3" stroke-linejoin="round" stroke-linecap="square"/>
<circle cx="533.57" cy="723.35" r="3.55" fill="#222"/>
<circle cx="481.33" cy="676" r="3.55" fill="#222"/>
<circle cx="558.26" cy="736.55" r="2.95" fill="#fff" stroke="#222" stroke-width="1.15"/>
<circle cx="517.43" cy="700.49" r="2.95" fill="#fff" stroke="#222" stroke-width="1.15"/>
<polyline points="499.07,686.27 481.33,669.73 464.67,657.33 448.13,646.67 435.33,641.33 423.33,636 411.33,624.93 394,612.67 383.33,606 371.33,599.33 361.33,591.33 348.67,587.33 334.67,582.4 320.67,576 306.4,567.33 287.33,560 270,552.67 251.33,544 240.67,532.67 235.33,528.67 226,525.33 215.33,521.33 201.6,510.27 189.33,500.27 177.33,490.4" fill="none" stroke="#e41a1c" stroke-width="3" stroke-linejoin="round" stroke-linecap="square"/>
<circle cx="481.33" cy="668.67" r="3.55" fill="#222"/>
<circle cx="405.73" cy="619.07" r="3.55" fill="#222"/>
<circle cx="361.33" cy="591.33" r="3.55" fill="#222"/>
<circle cx="306.4" cy="567.33" r="3.55" fill="#222"/>
<circle cx="235.33" cy="528.67" r="3.55" fill="#222"/>
<circle cx="177.33" cy="490.4" r="3.55" fill="#222"/>
<circle cx="448.13" cy="643.33" r="2.95" fill="#fff" stroke="#222" stroke-width="1.15"/>
<circle cx="383.33" cy="606" r="2.95" fill="#fff" stroke="#222" stroke-width="1.15"/>
<circle cx="334.67" cy="582.4" r="2.95" fill="#fff" stroke="#222" stroke-width="1.15"/>
<circle cx="270" cy="552" r="2.95" fill="#fff" stroke="#222" stroke-width="1.15"/>
<circle cx="201.6" cy="510.27" r="2.95" fill="#fff" stroke="#222" stroke-width="1.15"/>
<circle cx="498.8" cy="685.47" r="4" fill="#e41a1c"/>
<polyline points="500.4,687.33 490,675.33 481.33,668.67 464.67,659.33 447.6,650 440,646.4 426,634 410,623.07 392.67,617.33 376.67,609.73 366,604 353.33,598.27 339.33,592.67 325.33,586.27 310,582.67 291.33,574.4 278,570 270,568 252,565.6 232.67,556 214,546.4 196.67,539.33 181.33,531.6 166,519.33 150.4,507.33" fill="none" stroke="#4daf4a" stroke-width="3" stroke-linejoin="round" stroke-linecap="square"/>
<circle cx="481.33" cy="668.67" r="3.55" fill="#222"/>
<circle cx="410" cy="623.07" r="3.55" fill="#222"/>
<circle cx="353.33" cy="598.27" r="3.55" fill="#222"/>
<circle cx="291.33" cy="574.4" r="3.55" fill="#222"/>
<circle cx="214" cy="546.4" r="3.55" fill="#222"/>
<circle cx="150.4" cy="507.33" r="3.55" fill="#222"/>
<circle cx="440" cy="646.4" r="2.95" fill="#fff" stroke="#222" stroke-width="1.15"/>
<circle cx="376.67" cy="609.73" r="2.95" fill="#fff" stroke="#222" stroke-width="1.15"/>
<circle cx="325.33" cy="586.27" r="2.95" fill="#fff" stroke="#222" stroke-width="1.15"/>
<circle cx="252" cy="565.6" r="2.95" fill="#fff" stroke="#222" stroke-width="1.15"/>
<circle cx="181.33" cy="531.6" r="2.95" fill="#fff" stroke="#222" stroke-width="1.15"/>
<circle cx="500.4" cy="687.3" r="4" fill="#4daf4a"/>
<polyline points="500.4,688.93 481.33,669.73 466,656.67 450,646 440.67,640.67 428.67,635.33 416.67,628 410,623.33 398,615.33 385.73,608.4 371.33,604.67 357.33,596.67 344.67,592 328.67,587.33 311.33,584 297.33,576.4 283.33,572 270,568.4 259.33,565.33 243.33,559.33 226.27,550.27 208.67,540.67 190.27,531.33 167.33,520.67 143.33,510.27" fill="none" stroke="#efb811" stroke-width="3" stroke-linejoin="round" stroke-linecap="square"/>
<circle cx="481.33" cy="669.47" r="3.55" fill="#222"/>
<circle cx="410" cy="623.33" r="3.55" fill="#222"/>
<circle cx="357.33" cy="596.67" r="3.55" fill="#222"/>
<circle cx="297.33" cy="576.4" r="3.55" fill="#222"/>
<circle cx="226.27" cy="550.27" r="3.55" fill="#222"/>
<circle cx="143.33" cy="510.27" r="3.55" fill="#222"/>
<circle cx="447.6" cy="643.6" r="2.95" fill="#fff" stroke="#222" stroke-width="1.15"/>
<circle cx="385.73" cy="608.4" r="2.95" fill="#fff" stroke="#222" stroke-width="1.15"/>
<circle cx="328.67" cy="587.33" r="2.95" fill="#fff" stroke="#222" stroke-width="1.15"/>
<circle cx="259.33" cy="565.33" r="2.95" fill="#fff" stroke="#222" stroke-width="1.15"/>
<circle cx="190.27" cy="531.33" r="2.95" fill="#fff" stroke="#222" stroke-width="1.15"/>
<circle cx="500.4" cy="689.2" r="4" fill="#efb811"/>
<polyline points="500.4,687.33 481.33,671.07 470,664.67 459.33,655.33 447.6,645.73 436.67,642.67 422,637.33 413.33,628.67 411.07,626.27 396.67,619.33 381.33,612.4 369.33,607.33 357.33,602 346,596.67 334.4,591.6 323.33,586 310.4,576.27 294,568.67 278.27,559.33 270,554 278.4,559.33 263.33,550 244.4,537.33 226,525.33 207.33,516.67 177.33,503.33" fill="none" stroke="#377eb8" stroke-width="3" stroke-linejoin="round" stroke-linecap="square"/>
<circle cx="481.33" cy="670.67" r="3.55" fill="#222"/>
<circle cx="411.07" cy="626.27" r="3.55" fill="#222"/>
<circle cx="357.33" cy="602" r="3.55" fill="#222"/>
<circle cx="310.4" cy="576.27" r="3.55" fill="#222"/>
<circle cx="244.4" cy="537.33" r="3.55" fill="#222"/>
<circle cx="177.33" cy="503.33" r="3.55" fill="#222"/>
<circle cx="447.6" cy="646.67" r="2.95" fill="#fff" stroke="#222" stroke-width="1.15"/>
<circle cx="381.33" cy="612.4" r="2.95" fill="#fff" stroke="#222" stroke-width="1.15"/>
<circle cx="334.4" cy="591.6" r="2.95" fill="#fff" stroke="#222" stroke-width="1.15"/>
<circle cx="278.27" cy="559.33" r="2.95" fill="#fff" stroke="#222" stroke-width="1.15"/>
<circle cx="278.4" cy="559.33" r="2.95" fill="#fff" stroke="#222" stroke-width="1.15"/>
<circle cx="207.33" cy="516.67" r="2.95" fill="#fff" stroke="#222" stroke-width="1.15"/>
<circle cx="500.4" cy="687.3" r="4" fill="#377eb8"/>
<polyline points="481.33,676 443.33,653.73 406.27,632.4 376.4,619.33 349.33,610.4 293.33,593.33 220.4,569.33 141.33,539.33" fill="none" stroke="#7f7f7f" stroke-width="3" stroke-linejoin="round" stroke-linecap="square"/>
<circle cx="406.27" cy="632.4" r="3.55" fill="#222"/>
<circle cx="349.33" cy="610.4" r="3.55" fill="#222"/>
<circle cx="293.33" cy="593.33" r="3.55" fill="#222"/>
<circle cx="220.4" cy="569.33" r="3.55" fill="#222"/>
<circle cx="141.33" cy="539.33" r="3.55" fill="#222"/>
<circle cx="443.33" cy="653.73" r="2.95" fill="#fff" stroke="#222" stroke-width="1.15"/>
<circle cx="376.4" cy="619.33" r="2.95" fill="#fff" stroke="#222" stroke-width="1.15"/>
<circle cx="481.33" cy="676" r="4" fill="#7f7f7f"/>
</g></g>
<rect x="66.5" y="335.5" width="509" height="509" fill="none" stroke="#262626" stroke-width="1.35"/>
<text x="568.7" y="354.7" text-anchor="end" style="font-size:16.67px;font-weight:bold">Track</text>
<path d="M77.1 349.5h22.8" stroke="#222222" stroke-width="3.3"/>
<text x="114" y="353.7">BEST</text>
<path d="M77.1 365.5h22.8" stroke="#e41a1c" stroke-width="3.3"/>
<text x="114" y="369.15">GFS</text>
<path d="M77.1 380.5h22.8" stroke="#4daf4a" stroke-width="3.3"/>
<text x="114" y="384.6">HMON</text>
<path d="M77.1 396.5h22.8" stroke="#efb811" stroke-width="3.3"/>
<text x="114" y="400.05">CTCX</text>
<path d="M77.1 411.5h22.8" stroke="#377eb8" stroke-width="3.3"/>
<text x="114" y="415.5">HWRF</text>
<path d="M77.1 426.5h22.8" stroke="#7f7f7f" stroke-width="3.3"/>
<text x="114" y="430.95">OFCL</text>
<text class="t" x="108.3" y="870.7" text-anchor="middle" style="fill:#000">130°W</text>
<text class="t" x="201.5" y="870.7" text-anchor="middle" style="fill:#000">125°W</text>
<text class="t" x="295.2" y="870.7" text-anchor="middle" style="fill:#000">120°W</text>
<text class="t" x="389" y="870.7" text-anchor="middle" style="fill:#000">115°W</text>
<text class="t" x="482.8" y="870.7" text-anchor="middle" style="fill:#000">110°W</text>
<text class="t" transform="translate(60.5 398.7) scale(0.965 1)" text-anchor="end" style="fill:#000">30°N</text>
<text class="t" transform="translate(60.5 494) scale(0.965 1)" text-anchor="end" style="fill:#000">25°N</text>
<text class="t" transform="translate(60.5 586.6) scale(0.965 1)" text-anchor="end" style="fill:#000">20°N</text>
<text class="t" transform="translate(60.5 680.7) scale(0.965 1)" text-anchor="end" style="fill:#000">15°N</text>
<text class="t" transform="translate(60.5 774.8) scale(0.965 1)" text-anchor="end" style="fill:#000">10°N</text>
</g>
</svg></body></html>
